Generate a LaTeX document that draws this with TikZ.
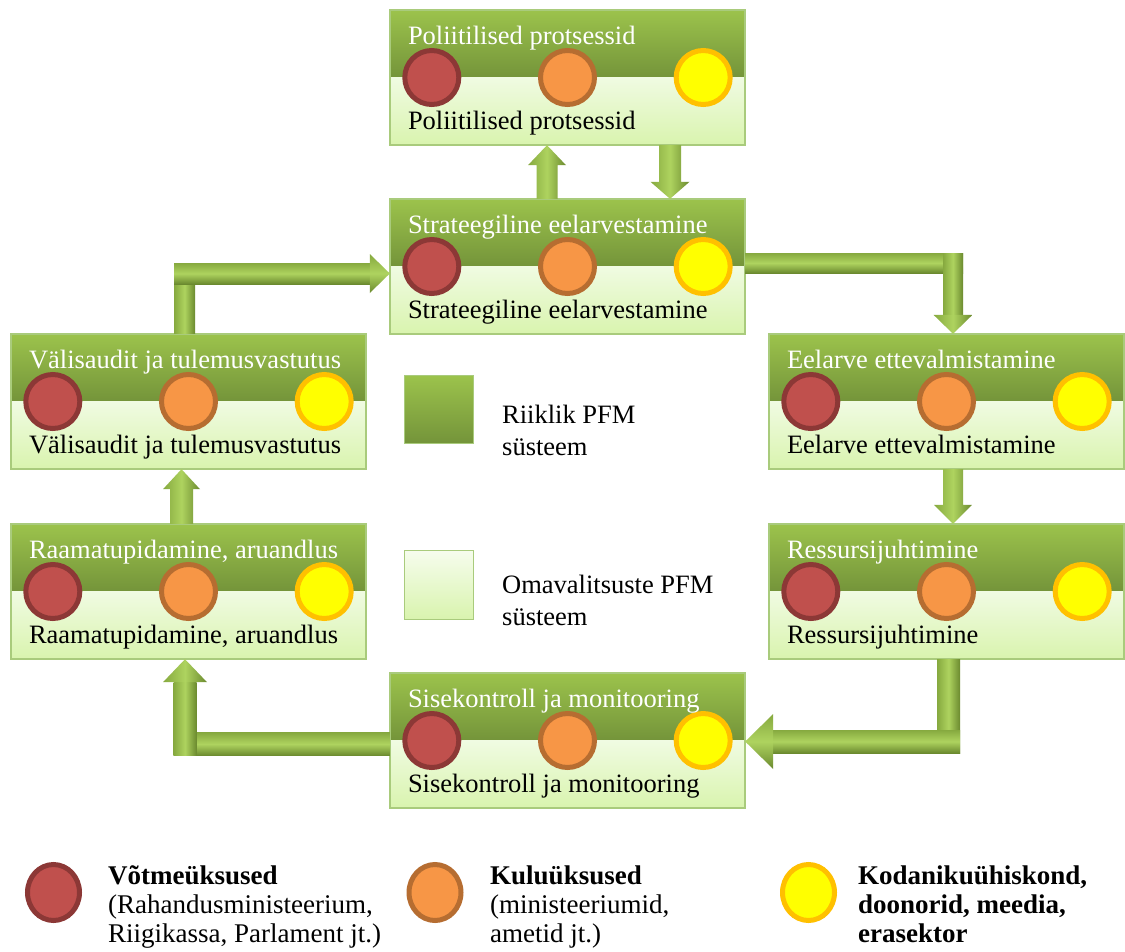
\documentclass[tikz,border=0pt]{standalone}
\usepackage{fontspec}
\setmainfont{Liberation Serif}
\usetikzlibrary{calc,shapes.geometric}

% palette
\definecolor{hdrtop}{HTML}{9CC34C}
\definecolor{hdrbot}{HTML}{74943A}
\definecolor{bodytop}{HTML}{F0FBE2}
\definecolor{bodybot}{HTML}{D9F4AE}
\definecolor{boxline}{HTML}{A9CB7C}
\definecolor{redfill}{HTML}{C0504D}
\definecolor{redline}{HTML}{8C3836}
\definecolor{orfill}{HTML}{F79646}
\definecolor{orline}{HTML}{B66D31}
\definecolor{yefill}{HTML}{FFFF00}
\definecolor{yeline}{HTML}{FFC000}
\definecolor{arrdark}{HTML}{6B8A2F}
\definecolor{arrmid}{HTML}{86A93F}
\definecolor{arrlight}{HTML}{AED35F}

\tikzset{
  stagebox/.style={rectangle, minimum width=355pt, minimum height=135pt, inner sep=0pt},
  unit/.style={circle, minimum size=54pt, inner sep=0pt, line width=5pt},
  keyunit/.style={unit, fill=redfill, draw=redline},
  costunit/.style={unit, fill=orfill, draw=orline},
  civunit/.style={unit, fill=yefill, draw=yeline},
  boxfont/.style={font=\fontsize{26.5}{30}\selectfont},
  hdrtext/.style={boxfont, anchor=base west, inner sep=0pt, text=white},
  bodytext/.style={boxfont, anchor=base west, inner sep=0pt, text=black},
  vsh/.style={left color=arrmid, right color=arrdark, middle color=arrlight},
  hsh/.style={top color=arrmid, bottom color=arrdark, middle color=arrlight},
  natsq/.style={rectangle, minimum width=69pt, minimum height=68pt, inner sep=0pt,
    top color=hdrtop, bottom color=hdrbot, draw=boxline, line width=1pt},
  locsq/.style={rectangle, minimum width=69pt, minimum height=69pt, inner sep=0pt,
    top color=bodytop!60!white, bottom color=bodybot, draw=boxline, line width=1pt},
  sidetext/.style={boxfont, anchor=base west, inner sep=0pt},
  legunit/.style={ellipse, minimum width=52pt, minimum height=56pt, inner sep=0pt, line width=5pt},
  legtext/.style={font=\fontsize{27}{29}\selectfont, anchor=base west, inner sep=0pt},
  legbold/.style={legtext, font=\fontsize{27}{29}\selectfont\bfseries},
}

% one stage of the cycle: frame, two-tone fill, three actor discs, two captions
\newcommand\drawstage[3]{%
  \node[stagebox] (#1) at (#2) {};
  \shade[top color=hdrtop, bottom color=hdrbot] (#1.north west) rectangle (#1.east);
  \shade[top color=bodytop, bottom color=bodybot] (#1.west) rectangle (#1.south east);
  \draw[boxline, line width=1.5pt] (#1.north west) rectangle (#1.south east);
  \node[keyunit] (#1-key) at ($(#1.west)+(42,0)$) {};
  \node[costunit] (#1-cost) at (#1.center) {};
  \node[civunit] (#1-civ) at ($(#1.east)+(-42,0)$) {};
  \node[hdrtext] (#1-hdr) at ($(#1.north west)+(18,35)$) {#3};
  \node[bodytext] (#1-body) at ($(#1.north west)+(18,120)$) {#3};
}

% straight block arrow: tail, tip, half shaft, half head, head length (+ points up, - points down)
\newcommand\blockv[5]{%
  \shade[vsh] ($(#1)+(-#3,0)$) -- ($(#2)+(-#3,#5)$) -- ($(#2)+(-#4,#5)$) -- (#2)
    -- ($(#2)+(#4,#5)$) -- ($(#2)+(#3,#5)$) -- ($(#1)+(#3,0)$) -- cycle;
}

\begin{document}
\begin{tikzpicture}[x=1pt, y=-1pt]
  \path[use as bounding box, fill=white] (0,0) rectangle (1125,951);

  % stages
  \drawstage{pol}{567.5,77.5}{Poliitilised protsessid}
  \drawstage{strat}{567.5,266.5}{Strateegiline eelarvestamine}
  \drawstage{val}{188.5,401.5}{Välisaudit ja tulemusvastutus}
  \drawstage{eel}{946.5,401.5}{Eelarve ettevalmistamine}
  \drawstage{raam}{188.5,591.5}{Raamatupidamine, aruandlus}
  \drawstage{res}{946.5,591.5}{Ressursijuhtimine}
  \drawstage{sise}{567.5,740.5}{Sisekontroll ja monitooring}

  % straight arrows
  \coordinate (a1tail) at ($(strat.north)+(-20.5,0)$);
  \coordinate (a1tip) at ($(pol.south)+(-20.5,0)$);
  \blockv{a1tail}{a1tip}{10.5}{19}{20}

  \coordinate (a2tail) at ($(pol.south)+(102.5,0)$);
  \coordinate (a2tip) at ($(strat.north)+(102.5,0)$);
  \blockv{a2tail}{a2tip}{11}{19.5}{-17}

  \coordinate (a5tail) at ($(eel.south)+(6.5,0)$);
  \coordinate (a5tip) at ($(res.north)+(6.5,0)$);
  \blockv{a5tail}{a5tip}{10}{19}{-19}

  \coordinate (a8tail) at ($(raam.north)+(-7,0)$);
  \coordinate (a8tip) at ($(val.south)+(-7,0)$);
  \blockv{a8tail}{a8tip}{11.5}{18.5}{20}

  % elbow arrow: external audit -> strategic budgeting
  \coordinate (a3tail) at ($(val.north)+(-4,0)$);
  \coordinate (a3tip) at ($(strat.west)+(0,7)$);
  \coordinate (a3bend) at (a3tail |- a3tip);
  \shade[vsh] ($(a3tail)+(-10.5,0)$) rectangle ($(a3bend)+(10.5,-10.5)$);
  \shade[hsh] ($(a3bend)+(-10.5,-10.5)$) rectangle ($(a3tip)+(-20,10.5)$);
  \shade[hsh] ($(a3tip)+(-20,-19.5)$) -- (a3tip) -- ($(a3tip)+(-20,19.5)$) -- cycle;

  % elbow arrow: strategic budgeting -> budget preparation
  \coordinate (a4tail) at ($(strat.east)+(0,-3.5)$);
  \coordinate (a4tip) at ($(eel.north)+(6.5,0)$);
  \coordinate (a4bend) at (a4tip |- a4tail);
  \shade[hsh] ($(a4tail)+(0,-10)$) rectangle ($(a4bend)+(10,10)$);
  \shade[vsh] ($(a4bend)+(-10,-10)$) rectangle ($(a4tip)+(10,-19)$);
  \shade[vsh] ($(a4tip)+(-19.5,-19)$) -- (a4tip) -- ($(a4tip)+(19.5,-19)$) -- cycle;

  % elbow arrow: resource management -> internal control
  \coordinate (a6tail) at ($(res.south)+(2,0)$);
  \coordinate (a6tip) at ($(sise.east)+(0,1)$);
  \coordinate (a6bend) at (a6tail |- a6tip);
  \shade[vsh] ($(a6tail)+(-11.5,0)$) rectangle ($(a6bend)+(11.5,11.5)$);
  \shade[hsh] ($(a6bend)+(11.5,-11.5)$) rectangle ($(a6tip)+(28,11.5)$);
  \shade[hsh] ($(a6tip)+(28,-27.5)$) -- (a6tip) -- ($(a6tip)+(28,27.5)$) -- cycle;

  % elbow arrow: internal control -> accounting
  \coordinate (a7tail) at ($(sise.west)+(0,3.5)$);
  \coordinate (a7tip) at ($(raam.south)+(-3.5,0)$);
  \coordinate (a7bend) at (a7tip |- a7tail);
  \shade[hsh] ($(a7tail)+(0,-11.5)$) rectangle ($(a7bend)+(-11.5,11.5)$);
  \shade[vsh] ($(a7bend)+(-11.5,11.5)$) rectangle ($(a7tip)+(11.5,23)$);
  \shade[vsh] ($(a7tip)+(-22,23)$) -- (a7tip) -- ($(a7tip)+(22,23)$) -- cycle;

  % system legend
  \node[natsq] (legnat) at (438.5,409) {};
  \node[sidetext] (legnat-l1) at (502,423) {Riiklik PFM};
  \node[sidetext] (legnat-l2) at (502,455) {süsteem};
  \node[locsq] (legloc) at (438.5,584.5) {};
  \node[sidetext] (legloc-l1) at (502,593) {Omavalitsuste PFM};
  \node[sidetext] (legloc-l2) at (502,625) {süsteem};

  % actor legend
  \node[legunit, fill=redfill, draw=redline] (legkey) at (53.5,892.5) {};
  \node[legbold] (legkey-l1) at (108,884) {Võtmeüksused};
  \node[legtext] (legkey-l2) at (108,913) {(Rahandusministeerium,};
  \node[legtext] (legkey-l3) at (108,942) {Riigikassa, Parlament jt.)};

  \node[legunit, fill=orfill, draw=orline] (legcost) at (435,892.5) {};
  \node[legbold] (legcost-l1) at (490,884) {Kuluüksused};
  \node[legtext] (legcost-l2) at (490,913) {(ministeeriumid,};
  \node[legtext] (legcost-l3) at (490,942) {ametid jt.)};

  \node[legunit, fill=yefill, draw=yeline] (legciv) at (808.5,892.5) {};
  \node[legbold] (legciv-l1) at (858,884) {Kodanikuühiskond,};
  \node[legbold] (legciv-l2) at (858,913) {doonorid, meedia,};
  \node[legbold] (legciv-l3) at (858,942) {erasektor};
\end{tikzpicture}
\end{document}
